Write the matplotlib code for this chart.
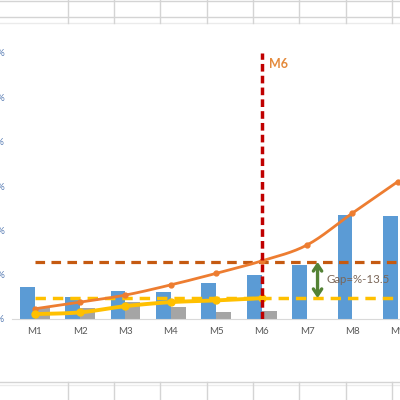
import numpy as np
import matplotlib
matplotlib.use('Agg')
import matplotlib.pyplot as plt
from matplotlib.lines import Line2D

plt.rcParams['font.family'] = ['Lato', 'DejaVu Sans']

# Data
months = ['M1', 'M2', 'M3', 'M4', 'M5', 'M6', 'M7', 'M8', 'M9']
blue_vals = [7.3, 5.0, 6.4, 6.1, 8.2, 9.9, 12.2, 23.5, 23.2]
gray_vals = [2.4, 2.4, 3.9, 2.8, 1.5, 1.9, np.nan, np.nan, np.nan]
orange_vals = [2.3, 3.8, 5.4, 7.7, 10.3, 13.1, 16.7, 23.9, 31.0]
yellow_vals = [1.1, 1.5, 2.9, 3.8, 4.2, 4.7]
target_level = 12.9
actual_level = 4.7
y_ticks = [0, 10, 20, 30, 40, 50, 60]
y_ticklabels = ['0%', '10%', '20%', '30%', '40%', '50%', '60%']
gap_text = 'Gap=%-13.5'
marker_month = 'M6'

COLORS = {
    'blue': '#5B9BD5',
    'gray': '#A5A5A5',
    'orange': '#ED7D31',
    'yellow': '#FFC000',
    'brown': '#C55A11',
    'red': '#C00000',
    'green': '#548235',
    'grid': '#D4D4D4',
}


def smooth(xs, ys, n=16):
    """Catmull-Rom curve through the points, like Excel's smoothed line."""
    xs = np.asarray(xs, dtype=float)
    ys = np.asarray(ys, dtype=float)
    px = np.concatenate([[2 * xs[0] - xs[1]], xs, [2 * xs[-1] - xs[-2]]])
    py = np.concatenate([[2 * ys[0] - ys[1]], ys, [2 * ys[-1] - ys[-2]]])
    out_x, out_y = [], []
    t = np.linspace(0, 1, n, endpoint=False)
    for i in range(1, len(px) - 2):
        for p, out in ((px, out_x), (py, out_y)):
            p0, p1, p2, p3 = p[i - 1], p[i], p[i + 1], p[i + 2]
            out.extend(0.5 * ((2 * p1) + (-p0 + p2) * t
                              + (2 * p0 - 5 * p1 + 4 * p2 - p3) * t ** 2
                              + (-p0 + 3 * p1 - 3 * p2 + p3) * t ** 3))
    out_x.append(xs[-1])
    out_y.append(ys[-1])
    return np.array(out_x), np.array(out_y)


fig = plt.figure(figsize=(4, 4), dpi=100)
W = H = 400.0

# spreadsheet cell grid around the chart
cols = [68, 114, 160, 207, 253, 299, 346, 392]
for y, c in [(1, COLORS['grid']), (17, COLORS['grid']), (23, '#EBEBEB'),
             (382, COLORS['grid']), (385, '#EBEBEB')]:
    fig.add_artist(Line2D([0, 1], [1 - y / H] * 2, color=c, lw=1))
for x in cols:
    fig.add_artist(Line2D([x / W] * 2, [1, 1 - 23 / H], color=COLORS['grid'], lw=1))
    fig.add_artist(Line2D([x / W] * 2, [1 - 382 / H, 0], color=COLORS['grid'], lw=1))

ax = fig.add_axes([12 / W, 81 / H, 9 * 45.4 / W, 266 / H])
x = np.arange(len(months))

ax.bar(x - 0.165, blue_vals, width=0.33, color=COLORS['blue'], zorder=2)
ax.bar(x + 0.165, gray_vals, width=0.33, color=COLORS['gray'], zorder=2)

# target and actual levels
ax.hlines(target_level, 0, 8.6, color=COLORS['brown'], lw=2.3,
          linestyles=(0, (3, 2)), zorder=3)
ax.hlines(actual_level, 0, 8.6, color=COLORS['yellow'], lw=2.5,
          linestyles=(0, (3, 2)), zorder=3)

sx, sy = smooth(x, orange_vals)
ax.plot(sx, sy, color=COLORS['orange'], lw=2, zorder=4)
ax.plot(x, orange_vals, 'o', color=COLORS['orange'], ms=3.5, zorder=4)

yx = x[:len(yellow_vals)]
sx, sy = smooth(yx, yellow_vals)
ax.plot(sx, sy, color=COLORS['yellow'], lw=2.8, zorder=4)
ax.plot(yx, yellow_vals, 'o', color=COLORS['yellow'], ms=5, zorder=4)

# vertical marker at M6
mi = months.index(marker_month)
ax.vlines(mi, 0, 60, color=COLORS['red'], lw=2.5, linestyles=(0, (2.2, 1.2)), zorder=5)
ax.text(mi + 0.17, 57.6, marker_month, color='#E48A3C', fontsize=9,
        fontweight='bold', va='center', ha='left')

# gap arrow
ax.annotate('', xy=(6.23, target_level), xytext=(6.23, actual_level),
            arrowprops=dict(arrowstyle='<->,head_width=0.3,head_length=0.45',
                            color=COLORS['green'], lw=2.4,
                            shrinkA=0, shrinkB=0), zorder=6)
ax.text(6.43, (target_level + actual_level) / 2, gap_text, color='#7A6658',
        fontsize=8.3, va='center', ha='left', zorder=6)

ax.set_xlim(-0.5, 8.5)
ax.set_ylim(0, 60)
ax.set_xticks(x)
ax.set_xticklabels(months)
ax.set_yticks(y_ticks)
ax.set_yticklabels(y_ticklabels)
ax.tick_params(axis='x', length=0, pad=6, labelsize=7, labelcolor='#595959')
ax.tick_params(axis='y', length=0, pad=5, labelsize=7, labelcolor='#5B7FB5')
for side in ['top', 'right', 'left']:
    ax.spines[side].set_visible(False)
ax.spines['bottom'].set_color('#D9D9D9')
ax.set_facecolor('none')

plt.savefig('out.png', dpi=100, facecolor='white')
plt.close()
